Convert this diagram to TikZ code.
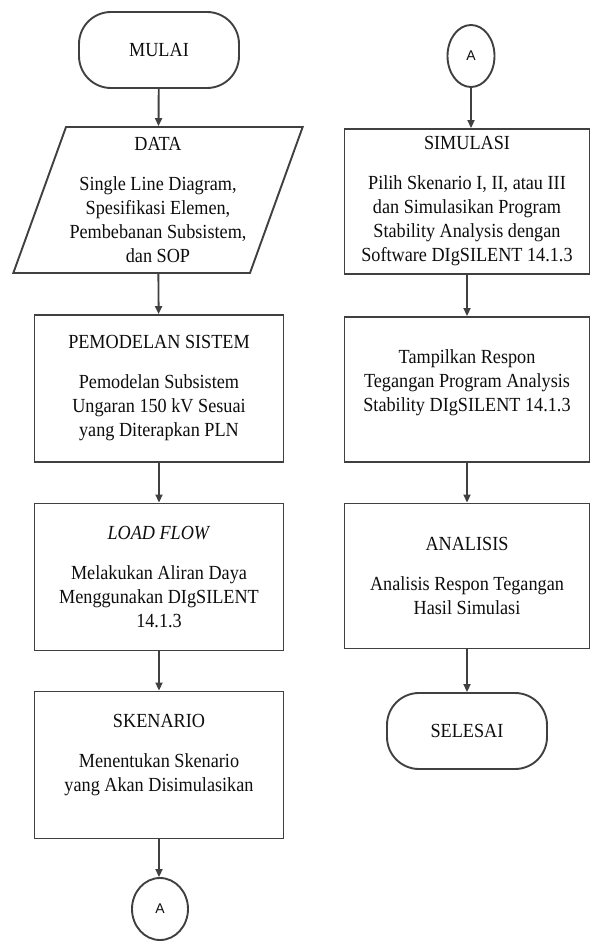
\documentclass[tikz,border=0pt]{standalone}
\usepackage{fontspec}
\setmainfont[FakeStretch=0.91]{Liberation Serif}
\newfontfamily\asans{Liberation Sans}
\usetikzlibrary{shapes.geometric,arrows.meta}
\begin{document}
\begin{tikzpicture}[x=1pt,y=-1pt,
  line/.style={draw=black!75, line width=1.9pt},
  arr/.style={draw=black!75, line width=1.9pt, -{Triangle[length=8pt,width=7pt]}},
  txt/.style={align=center, font=\fontsize{20}{24}\selectfont, text=black!95},
  lbox/.style={line, txt, rectangle, minimum width=249pt, minimum height=147pt, inner sep=0pt},
  rbox/.style={line, txt, rectangle, minimum width=245pt, minimum height=145pt, inner sep=0pt},
  term/.style={line, txt, rectangle, rounded corners=32pt, minimum width=160pt, minimum height=76pt, inner sep=0pt},
  conn/.style={line, ellipse, inner sep=0pt, font=\asans\fontsize{14}{16}\selectfont, text=black!95},
  iodata/.style={line, txt, trapezium, trapezium left angle=68, trapezium right angle=112, trapezium stretches=true, minimum width=290pt, minimum height=146pt, inner sep=0pt}
]
\useasboundingbox (0,0) rectangle (591,944);

% left column
\node[term] (mulai) at (159,50) {MULAI};
\node[iodata] (data) at (158,200) {DATA\\[16pt]Single Line Diagram,\\Spesifikasi Elemen,\\Pembebanan Subsistem,\\dan SOP};
\node[lbox] (model) at (159,388.5) {PEMODELAN SISTEM\\[16pt]Pemodelan Subsistem\\Ungaran 150 kV Sesuai\\yang Diterapkan PLN};
\node[lbox] (load) at (159,577) {\textit{LOAD FLOW}\\[16pt]Melakukan Aliran Daya\\Menggunakan DIgSILENT\\14.1.3};
\node[lbox] (sken) at (159,765) {SKENARIO\\[16pt]Menentukan Skenario\\yang Akan Disimulasikan\\\mbox{}};
\node[conn, minimum width=56pt, minimum height=62pt] (a1) at (160,909) {A};

% right column
\node[conn, minimum width=47pt, minimum height=62pt] (a2) at (471,56) {A};
\node[rbox] (simul) at (467,201.5) {SIMULASI\\[16pt]Pilih Skenario I, II, atau III\\dan Simulasikan Program\\Stability Analysis dengan\\Software DIgSILENT 14.1.3};
\node[rbox] (tampil) at (467,389.5) {Tampilkan Respon\\Tegangan Program Analysis\\Stability DIgSILENT 14.1.3\\[-6pt]\mbox{}};
\node[rbox] (anal) at (467,576) {ANALISIS\\[16pt]Analisis Respon Tegangan\\Hasil Simulasi};
\node[term] (selesai) at (467,731) {SELESAI};

% connectors
\draw[arr] (mulai) -- (data);
\draw[arr] (data) -- (model);
\draw[arr] (model) -- (load);
\draw[arr] (load) -- (sken);
\draw[arr] (sken.south) -- (sken.south |- a1.north);
\draw[arr] (a2.south) -- (a2.south |- simul.north);
\draw[arr] (simul) -- (tampil);
\draw[arr] (tampil) -- (anal);
\draw[arr] (anal) -- (selesai);
\end{tikzpicture}
\end{document}
